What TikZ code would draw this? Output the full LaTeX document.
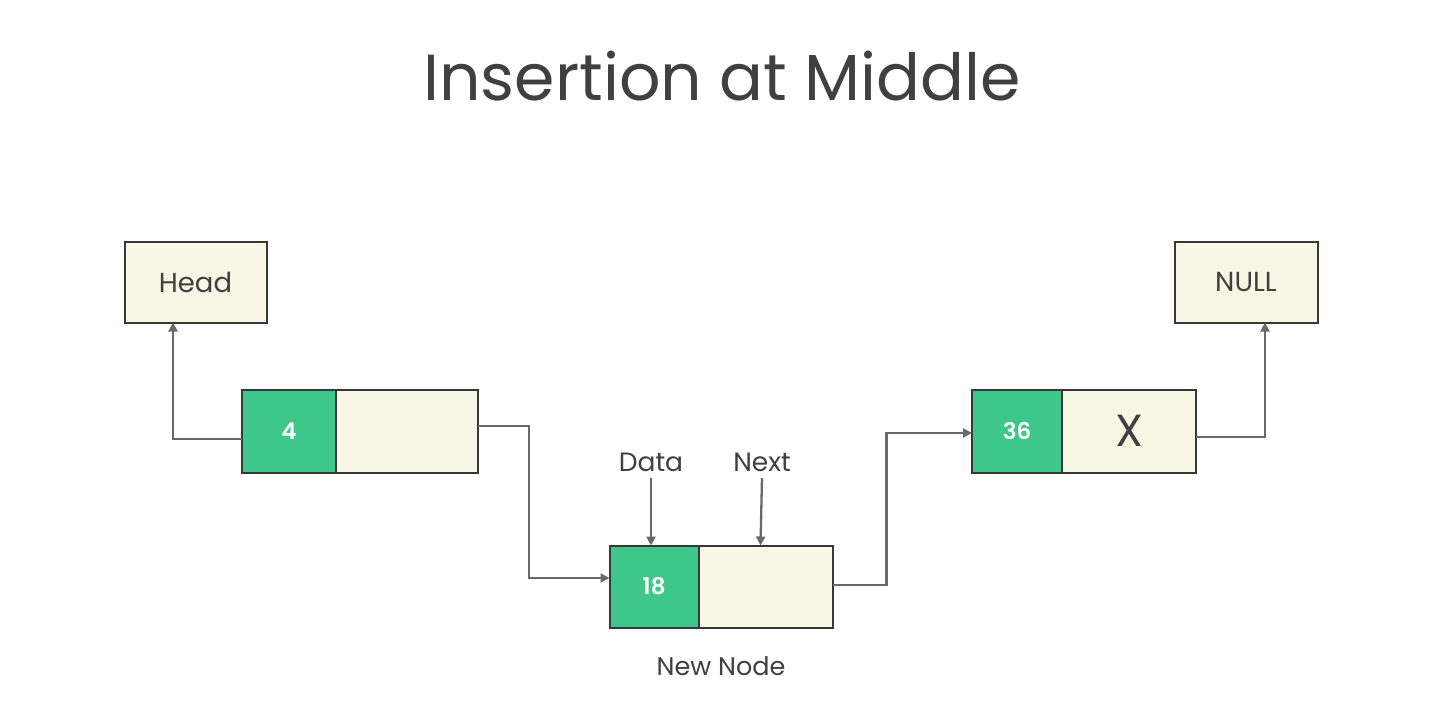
\documentclass[tikz,border=0pt]{standalone}
\usepackage{fontspec}
\setmainfont{Poppins}
\newfontfamily\numfont{Poppins}[UprightFont=* SemiBold]
\usetikzlibrary{arrows.meta}
\definecolor{cellgreen}{RGB}{61,199,138}
\definecolor{cellbeige}{RGB}{248,247,230}
\definecolor{edgedark}{RGB}{56,56,56}
\definecolor{linegray}{RGB}{105,105,105}
\definecolor{txtgray}{RGB}{64,64,64}
\tikzset{
  cell/.style={draw=edgedark, line width=2pt, inner sep=0pt, outer sep=0pt, minimum height=83pt},
  datacell/.style={cell, fill=cellgreen, text=white, font=\numfont\fontsize{23}{23}\selectfont},
  nextcell/.style={cell, fill=cellbeige, text=txtgray},
  labelbox/.style={draw=edgedark, line width=2pt, fill=cellbeige, inner sep=0pt, outer sep=0pt, minimum width=142pt, minimum height=81pt, text=txtgray, font=\fontsize{27.5}{27.5}\selectfont},
  conn/.style={draw=linegray, line width=2.3pt, -{Triangle[length=9pt,width=9pt]}},
  lbl/.style={inner sep=0pt, anchor=base, text=txtgray, font=\fontsize{26.5}{26.5}\selectfont},
}
\begin{document}
\begin{tikzpicture}[x=1pt,y=-1pt]
\useasboundingbox[fill=white] (0,0) rectangle (1438,710);
\node[inner sep=0pt, anchor=base, text=txtgray, font=\fontsize{65}{65}\selectfont] (title) at (722,100) {Insertion at Middle};

\node[labelbox] (head) at (195.5,282) {Head};
\node[labelbox, minimum width=143pt] (null) at (1246,282) {NULL};

% node 4
\node[datacell, minimum width=94pt] (n4d) at (289,431) {4};
\node[nextcell, minimum width=142pt, anchor=west] (n4n) at (n4d.east) {};
% node 18
\node[datacell, minimum width=89pt, minimum height=82pt] (n18d) at (654,586.5) {18};
\node[nextcell, minimum width=134pt, minimum height=82pt, anchor=west] (n18n) at (n18d.east) {};
% node 36
\node[datacell, minimum width=90pt] (n36d) at (1017,431) {36};
\node[nextcell, minimum width=134pt, anchor=west, font=\fontsize{45}{45}\selectfont] (n36n) at (n36d.east) {X};

\node[lbl] (datal) at (651,471) {Data};
\node[lbl] (nextl) at (762,471) {Next};
\node[lbl, font=\fontsize{25.5}{25.5}\selectfont] (newl) at (721,675) {New Node};

% connectors
\draw[conn] ([yshift=-8pt]n4d.west) -| ([xshift=-22.5pt]head.south);
\draw[conn] ([yshift=5pt]n4n.east) -- ++(51,0) |- ([yshift=8.5pt]n18d.west);
\draw[conn] ([yshift=1.5pt]n18n.east) -- ++(54,0) |- ([yshift=-2pt]n36d.west);
\draw[conn] ([yshift=-6pt]n36n.east) -| ([xshift=19pt]null.south);
\draw[conn] ([yshift=-7pt]datal.base) -- ([xshift=-3pt]n18d.north);
\draw[conn] ([yshift=-7pt]nextl.base) -- ([xshift=-5pt]n18n.north);
\end{tikzpicture}
\end{document}
